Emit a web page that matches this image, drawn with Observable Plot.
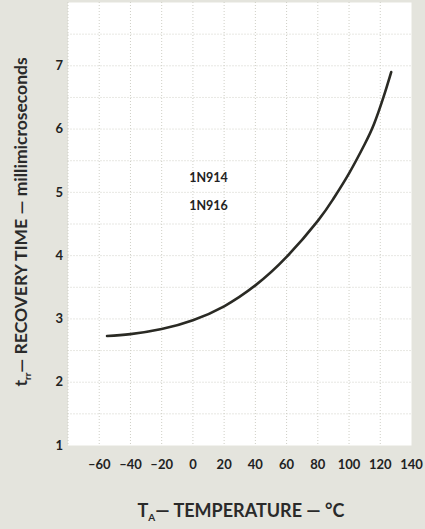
<!DOCTYPE html>
<html>
<head>
<meta charset="utf-8">
<script src="https://cdn.jsdelivr.net/npm/d3@7"></script>
<script src="https://cdn.jsdelivr.net/npm/@observablehq/plot@0.6"></script>
<style>
  html, body { margin: 0; padding: 0; background: #e4e4dd; }
  #chart { width: 425px; height: 529px; }
  svg { display: block; }
</style>
</head>
<body>
<div id="chart"></div>
<script>
// Temperature (°C) and reverse recovery time (millimicroseconds)
const temperature = [-55, -40, -20, 0, 20, 40, 60, 80, 90, 100, 110, 116, 122, 127];
const recoveryTime = [2.73, 2.76, 2.84, 2.98, 3.20, 3.53, 3.98, 4.55, 4.90, 5.30, 5.76, 6.08, 6.50, 6.90];

const xTicks = [-60, -40, -20, 0, 20, 40, 60, 80, 100, 120, 140];
const yTicks = [1, 2, 3, 4, 5, 6, 7];
const xGrid = [-80, -60, -40, -20, 0, 20, 40, 60, 80, 100, 120];
const yGrid = [1.5, 2, 2.5, 3, 3.5, 4, 4.5, 5, 5.5, 6, 6.5, 7, 7.5];

const deviceLabels = ["1N914", "1N916"];
const deviceLabelX = [10, 10];
const deviceLabelY = [5.23, 4.78];

const curve = temperature.map((t, i) => ({t, v: recoveryTime[i]}));
const labels = deviceLabels.map((name, i) => ({name, x: deviceLabelX[i], y: deviceLabelY[i]}));

const font = "Lato, 'Noto Sans', sans-serif";

const chart = Plot.plot({
  width: 425,
  height: 529,
  marginLeft: 67.5,
  marginRight: 14,
  marginTop: 2,
  marginBottom: 84,
  style: {background: "transparent", fontFamily: font, fontWeight: "bold", fontSize: "13px", color: "#222"},
  x: {domain: [-80, 140], ticks: xTicks, tickSize: 0, tickPadding: 14, label: null,
      tickFormat: d => d < 0 ? "\u2013" + Math.abs(d) : String(d)},
  y: {domain: [1, 8], ticks: yTicks, tickSize: 0, tickPadding: 5, label: null,
      tickFormat: d => String(d)},
  marks: [
    Plot.frame({fill: "white", stroke: "none"}),
    Plot.ruleX(xGrid, {stroke: "#cfcfc6", strokeDasharray: "1,2", strokeWidth: 1}),
    Plot.ruleY(yGrid, {stroke: "#cfcfc6", strokeDasharray: "1,2", strokeWidth: 1}),
    Plot.line(curve, {x: "t", y: "v", stroke: "#2a2a24", strokeWidth: 2.6, curve: "natural"}),
    Plot.text(labels, {x: "x", y: "y", text: "name", fontSize: 12.5, fontWeight: "bold", fill: "#222"})
  ]
});

document.getElementById("chart").appendChild(chart);

// Axis titles with subscripts
const svg = d3.select(chart);
const yTitle = svg.append("text")
  .attr("transform", "translate(27,222) rotate(-90)")
  .attr("text-anchor", "middle")
  .attr("font-family", font)
  .attr("font-weight", "bold")
  .attr("font-size", 17.5)
  .attr("fill", "#2a2a2a");
yTitle.append("tspan").text("t");
yTitle.append("tspan").attr("font-size", 10).attr("dy", 4).text("rr");
yTitle.append("tspan").attr("dy", -4).text("\u2014 RECOVERY TIME \u2014 millimicroseconds");

const xTitle = svg.append("text")
  .attr("x", 241)
  .attr("y", 517)
  .attr("text-anchor", "middle")
  .attr("font-family", font)
  .attr("font-weight", "bold")
  .attr("font-size", 18)
  .attr("fill", "#2a2a2a");
xTitle.append("tspan").text("T");
xTitle.append("tspan").attr("font-size", 10).attr("dy", 4).text("A");
xTitle.append("tspan").attr("dy", -4).text("\u2014 TEMPERATURE \u2014 \u00B0C");
</script>
</body>
</html>
